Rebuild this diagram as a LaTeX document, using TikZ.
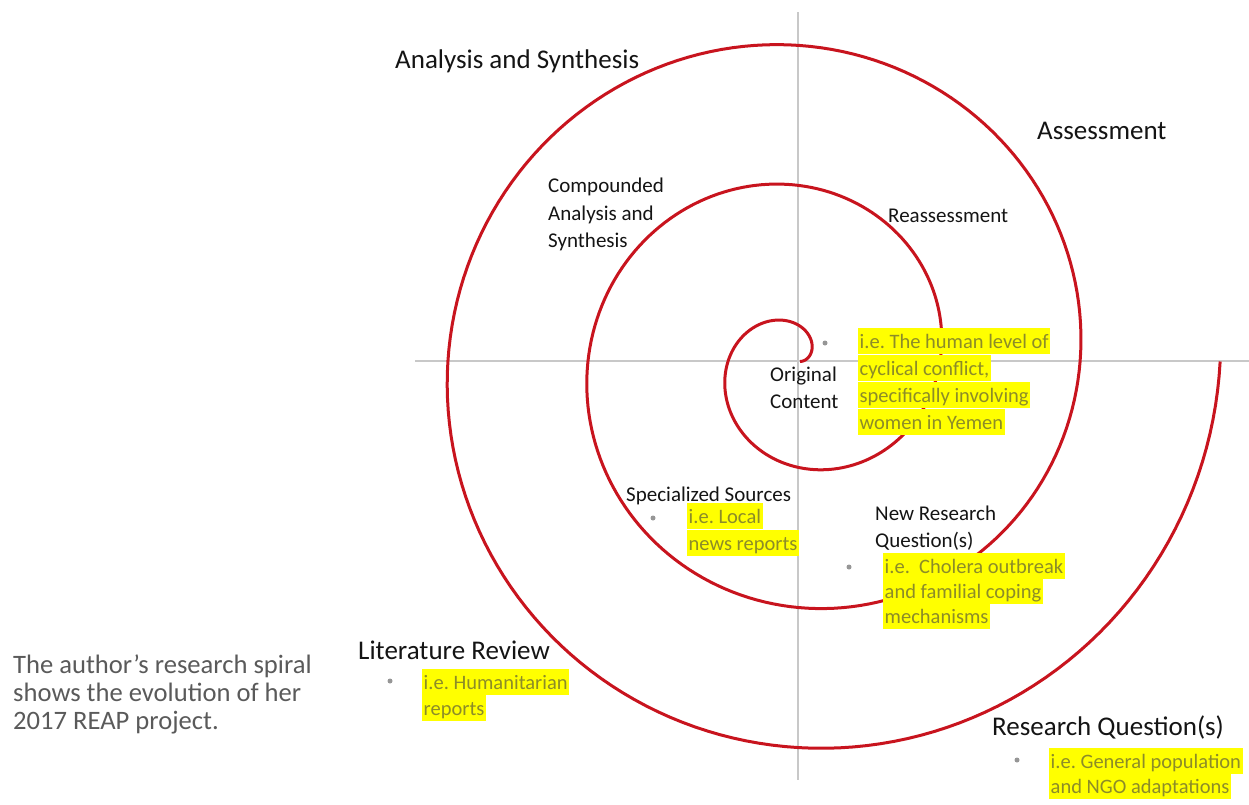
\documentclass[tikz,border=0pt]{standalone}
\usepackage{fontspec}
\setmainfont{Carlito}
\definecolor{spiralred}{RGB}{200,20,30}
\definecolor{axisgray}{RGB}{200,200,200}
\definecolor{hltext}{RGB}{140,140,40}
\definecolor{hlfill}{RGB}{255,255,0}
\definecolor{captiongray}{RGB}{90,90,90}
\definecolor{bulletgray}{RGB}{150,150,150}
\definecolor{labelblack}{RGB}{20,20,20}
\begin{document}
\frenchspacing
\begin{tikzpicture}[x=1pt,y=-1pt,
  biglabel/.style={anchor=base west, inner sep=0pt, font=\fontsize{27}{32}\selectfont, text=labelblack},
  smalllabel/.style={anchor=base west, inner sep=0pt, font=\fontsize{21}{25}\selectfont, text=labelblack},
  captiontext/.style={anchor=base west, inner sep=0pt, font=\fontsize{26.6}{32}\selectfont, text=captiongray},
  hl/.style={anchor=base west, fill=hlfill, text=hltext, inner xsep=1.5pt, inner ysep=0pt, text height=20pt, text depth=6pt, font=\fontsize{20.5}{25}\selectfont},
  bulletdot/.style={circle, fill=bulletgray, inner sep=0pt, minimum size=5pt},
  axisline/.style={draw=axisgray, line width=2pt},
  spiralline/.style={draw=spiralred, line width=3pt, line join=round}
]
\useasboundingbox (0,0) rectangle (1249,804);

% axes
\coordinate (vtop) at (798,12);
\coordinate (vbot) at (798,780);
\coordinate (hleft) at (415,361);
\coordinate (hright) at (1249,361);
\draw[axisline] (vtop) -- (vbot);
\draw[axisline] (hleft) -- (hright);

% spiral
\draw[spiralline] plot[domain=0:1080, samples=541, variable=\t]
  ({799+(1+0.389*\t)*cos(\t)}, {361.5-(1+0.389*\t)*sin(\t)});

% big labels
\node[biglabel] (anasyn) at (395,68) {Analysis and Synthesis};
\node[biglabel] (assess) at (1037,139) {Assessment};
\node[biglabel] (litrev) at (358,659) {Literature Review};
\node[biglabel] (resq) at (992,735) {Research Question(s)};

% small labels
\node[smalllabel] (comp1) at (548,192) {Compounded};
\node[smalllabel] (comp2) at (548,220) {Analysis and};
\node[smalllabel] (comp3) at (548,247) {Synthesis};
\node[smalllabel] (reass) at (888,222) {Reassessment};
\node[smalllabel] (orig1) at (770,381) {Original};
\node[smalllabel] (orig2) at (770,408) {Content};
\node[smalllabel] (spec) at (626,501) {Specialized Sources};
\node[smalllabel] (newq1) at (875,520) {New Research};
\node[smalllabel] (newq2) at (875,547) {Question(s)};

% bullets
\node[bulletdot] (b1) at (825,343) {};
\node[bulletdot] (b2) at (653,518) {};
\node[bulletdot] (b3) at (849,567) {};
\node[bulletdot] (b4) at (390,681) {};
\node[bulletdot] (b5) at (1017,760) {};

% highlighted examples
\node[hl] (hum1) at (858,348) {i.e. The human level of};
\node[hl] (hum2) at (858,375) {cyclical conflict,};
\node[hl] (hum3) at (858,402) {specifically involving};
\node[hl] (hum4) at (858,429) {women in Yemen};

\node[hl] (loc1) at (687,523) {i.e. Local};
\node[hl] (loc2) at (687,550) {news reports};

\node[hl] (chol1) at (883,573) {i.e.\ \ Cholera outbreak};
\node[hl] (chol2) at (883,598) {and familial coping};
\node[hl] (chol3) at (883,623) {mechanisms};

\node[hl] (hmn1) at (422,689) {i.e. Humanitarian};
\node[hl] (hmn2) at (422,715) {reports};

\node[hl] (gen1) at (1049,768) {i.e. General population};
\node[hl] (gen2) at (1049,793) {and NGO adaptations};

% caption
\node[captiontext] (cap1) at (13,673) {The author’s research spiral};
\node[captiontext] (cap2) at (13,701) {shows the evolution of her};
\node[captiontext] (cap3) at (13,729) {2017 REAP project.};
\end{tikzpicture}
\end{document}
